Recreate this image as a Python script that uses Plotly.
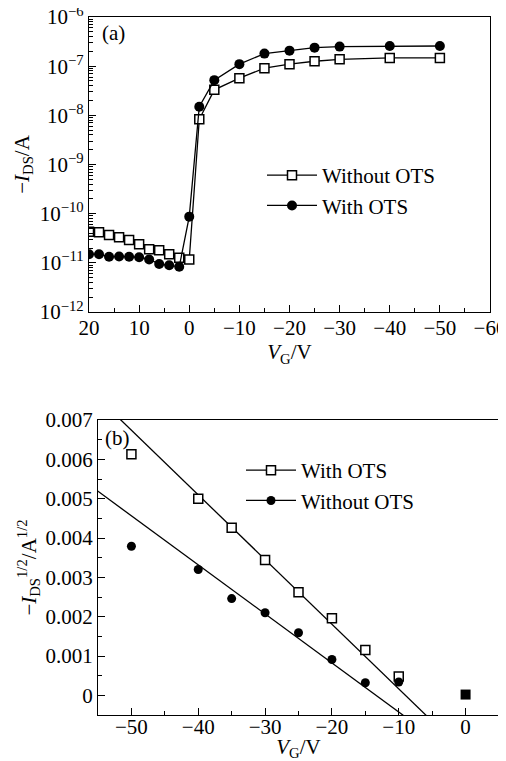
import plotly.graph_objects as go

# ---------------- Panel (a) data ----------------
vg_a = [20, 18, 16, 14, 12, 10, 8, 6, 4, 2, 0, -2, -5, -10, -15, -20, -25, -30, -40, -50]
ids_without = [4.3e-11, 4.2e-11, 3.7e-11, 3.3e-11, 2.9e-11, 2.4e-11, 1.9e-11, 1.8e-11, 1.5e-11,
               1.27e-11, 1.17e-11, 8.3e-9, 3.3e-8, 5.7e-8, 9.1e-8, 1.1e-7, 1.26e-7, 1.38e-7,
               1.47e-7, 1.47e-7]
ids_with = [1.5e-11, 1.5e-11, 1.33e-11, 1.35e-11, 1.33e-11, 1.3e-11, 1.17e-11, 9.5e-12, 8.9e-12,
            8.3e-12, 8.7e-11, 1.5e-8, 5.2e-8, 1.1e-7, 1.8e-7, 2.07e-7, 2.38e-7, 2.5e-7,
            2.57e-7, 2.57e-7]
log_tick_vals = [1e-12, 1e-11, 1e-10, 1e-9, 1e-8, 1e-7, 1e-6]
log_tick_text = ["10<sup>−12</sup>", "10<sup>−11</sup>", "10<sup>−10</sup>", "10<sup>−9</sup>",
                 "10<sup>−8</sup>", "10<sup>−7</sup>", "10<sup>−6</sup>"]
log_minor_vals = [m * d for d in log_tick_vals[:-1] for m in range(2, 10)]

# ---------------- Panel (b) data ----------------
vg_b = [-50, -40, -35, -30, -25, -20, -15, -10]
sqrt_with = [0.00613, 0.00500, 0.00426, 0.00344, 0.00262, 0.00196, 0.00115, 0.00048]
sqrt_without = [0.00379, 0.00320, 0.00246, 0.00210, 0.00159, 0.00091, 0.00032, 0.00034]
vg_zero = [0]
sqrt_zero = [0.00002]
# linear fits: slope and threshold voltage
fit_with_slope, fit_with_vth = -1.644e-4, -9.0
fit_without_slope, fit_without_vth = -1.247e-4, -13.4
fit_x = [-60, 10]

FONT = "Liberation Serif"
BLACK = "#000000"

fig = go.Figure()

# Panel (a)
fig.add_trace(go.Scatter(x=vg_a, y=ids_without, mode="lines+markers", name="Without OTS",
                         line=dict(color=BLACK, width=1.3),
                         marker=dict(symbol="square", size=9, color="white",
                                     line=dict(color=BLACK, width=1.5)),
                         xaxis="x", yaxis="y", legend="legend"))
fig.add_trace(go.Scatter(x=vg_a, y=ids_with, mode="lines+markers", name="With OTS",
                         line=dict(color=BLACK, width=1.3),
                         marker=dict(symbol="circle", size=10, color=BLACK),
                         xaxis="x", yaxis="y", legend="legend"))

# Panel (b) fit lines
fig.add_trace(go.Scatter(x=fit_x, y=[fit_with_slope * (x - fit_with_vth) for x in fit_x],
                         mode="lines", line=dict(color=BLACK, width=1.3), showlegend=False,
                         xaxis="x2", yaxis="y2"))
fig.add_trace(go.Scatter(x=fit_x, y=[fit_without_slope * (x - fit_without_vth) for x in fit_x],
                         mode="lines", line=dict(color=BLACK, width=1.3), showlegend=False,
                         xaxis="x2", yaxis="y2"))
# Panel (b) points
fig.add_trace(go.Scatter(x=vg_b, y=sqrt_with, mode="markers", showlegend=False,
                         marker=dict(symbol="square", size=9, color="white",
                                     line=dict(color=BLACK, width=1.5)),
                         xaxis="x2", yaxis="y2"))
fig.add_trace(go.Scatter(x=vg_b, y=sqrt_without, mode="markers", showlegend=False,
                         marker=dict(symbol="circle", size=9, color=BLACK),
                         xaxis="x2", yaxis="y2"))
fig.add_trace(go.Scatter(x=vg_zero, y=sqrt_zero, mode="markers", showlegend=False,
                         marker=dict(symbol="square", size=10, color=BLACK),
                         xaxis="x2", yaxis="y2"))
# Panel (b) legend entries
fig.add_trace(go.Scatter(x=[None], y=[None], mode="lines+markers", name="With OTS",
                         line=dict(color=BLACK, width=1.3),
                         marker=dict(symbol="square", size=9, color="white",
                                     line=dict(color=BLACK, width=1.5)),
                         xaxis="x2", yaxis="y2", legend="legend2"))
fig.add_trace(go.Scatter(x=[None], y=[None], mode="lines+markers", name="Without OTS",
                         line=dict(color=BLACK, width=1.3),
                         marker=dict(symbol="circle", size=9, color=BLACK),
                         xaxis="x2", yaxis="y2", legend="legend2"))

# page body has an 8px default margin: size the figure so it ends at the window edge
OFF = 8
W, H = 506 - OFF, 761 - OFF
def px_x(a, b):
    return [(a - OFF) / W, (b - OFF) / W]
def px_y(top, bottom):
    return [1 - (bottom - OFF) / H, 1 - (top - OFF) / H]
def pxx(a):
    return (a - OFF) / W
def pxy(a):
    return 1 - (a - OFF) / H

TS = 21
axis_common = dict(showline=True, linecolor=BLACK, linewidth=1.3, mirror=True,
                   showgrid=False, zeroline=False, ticks="inside", ticklen=7,
                   tickwidth=1.3, tickcolor=BLACK, automargin=False,
                   ticklabeloverflow="allow",
                   tickfont=dict(family=FONT, size=TS, color=BLACK),
                   title_font=dict(family=FONT, size=TS, color=BLACK))

fig.update_layout(
    template="none",
    width=W, height=H, margin=dict(l=0, r=0, t=0, b=0, autoexpand=False),
    paper_bgcolor="white", plot_bgcolor="white",
    font=dict(family=FONT, size=TS, color=BLACK),
    xaxis=dict(domain=px_x(89, 490), anchor="y", range=[20, -60], tickmode="linear",
               tick0=0, dtick=10, ticklabelstandoff=-3,
               minor=dict(ticks="inside", ticklen=4, tickwidth=1.3, dtick=5, tickcolor=BLACK),
               title=dict(text="<i>V</i><sub>G</sub>/V", standoff=2), **axis_common),
    yaxis=dict(domain=px_y(17, 312), anchor="x", type="log", range=[-12, -6],
               tickmode="array", tickvals=log_tick_vals, ticktext=log_tick_text,
               minor=dict(ticks="inside", ticklen=4, tickwidth=1, tickmode="array",
                          tickvals=log_minor_vals, tickcolor=BLACK),
               title=dict(text="−<i>I</i><sub>DS</sub>/A", standoff=4), **axis_common),
    xaxis2=dict(domain=px_x(98, 499), anchor="y2", range=[-55, 5], tickmode="linear",
                tick0=0, dtick=10, ticklabelstandoff=-7,
                minor=dict(ticks="inside", ticklen=4, tickwidth=1.3, dtick=5, tickcolor=BLACK),
                title=dict(text="<i>V</i><sub>G</sub>/V", standoff=6), **axis_common),
    yaxis2=dict(domain=px_y(420, 715), anchor="x2", range=[-0.0005, 0.007], tickmode="linear",
                tick0=0, dtick=0.001,
                minor=dict(ticks="inside", ticklen=4, tickwidth=1.3, dtick=0.0005, tickcolor=BLACK),
                title=dict(text="−<i>I</i><sub>DS</sub><sup>1/2</sup>/A<sup>1/2</sup>", standoff=3),
                **axis_common),
    legend=dict(x=pxx(262), y=pxy(155), xanchor="left", yanchor="top",
                bgcolor="rgba(0,0,0,0)", font=dict(family=FONT, size=TS, color=BLACK),
                itemwidth=50, tracegroupgap=0),
    legend2=dict(x=pxx(241), y=pxy(450), xanchor="left", yanchor="top",
                 bgcolor="rgba(0,0,0,0)", font=dict(family=FONT, size=TS, color=BLACK),
                 itemwidth=50, tracegroupgap=0),
    annotations=[
        dict(text="(a)", x=pxx(100), y=pxy(33), xref="paper", yref="paper",
             xanchor="left", yanchor="middle", showarrow=False,
             font=dict(family=FONT, size=TS, color=BLACK)),
        dict(text="(b)", x=pxx(103), y=pxy(438), xref="paper", yref="paper",
             xanchor="left", yanchor="middle", showarrow=False,
             font=dict(family=FONT, size=TS, color=BLACK)),
    ],
)

fig.write_html("out.html")
